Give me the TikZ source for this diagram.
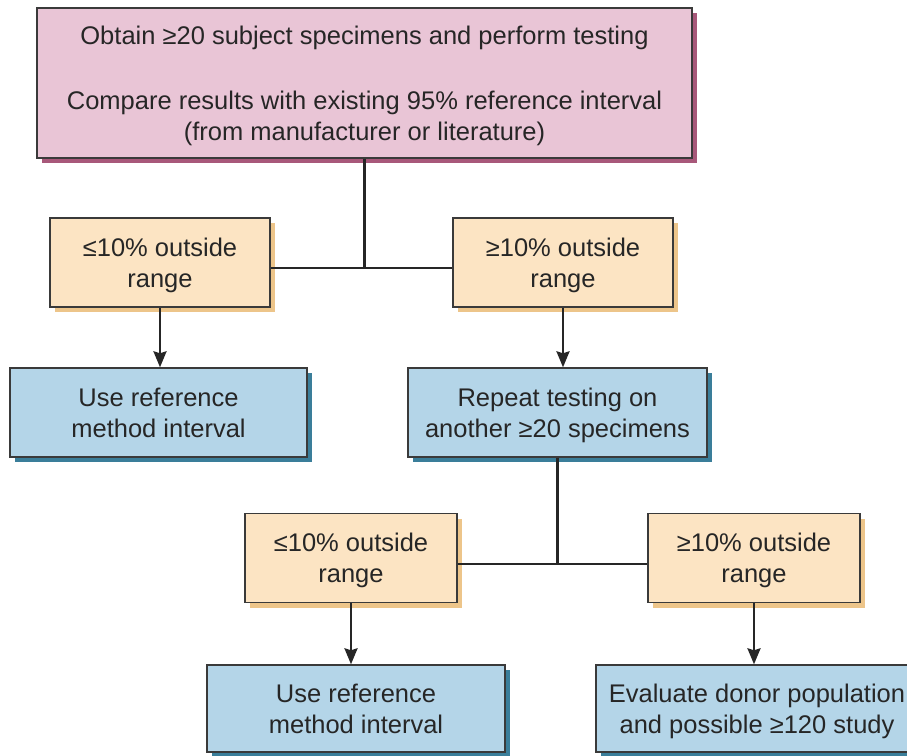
\documentclass[tikz,border=0pt]{standalone}
\usepackage{fontspec}
\setmainfont{Liberation Sans}
\usetikzlibrary{shadows,arrows.meta}
\definecolor{pinkfill}{HTML}{E9C5D6}
\definecolor{pinkshadow}{HTML}{A8587A}
\definecolor{orangefill}{HTML}{FCE4C3}
\definecolor{orangeshadow}{HTML}{EDC58A}
\definecolor{bluefill}{HTML}{B4D5E8}
\definecolor{blueshadow}{HTML}{3A7E9A}
\definecolor{edgegray}{HTML}{3A3A3A}
\tikzset{
  box/.style={draw=edgegray, line width=1.4pt, rectangle, align=center, inner sep=0pt,
    font=\fontsize{25.5}{31}\selectfont, text=black!85, text depth=-5pt},
  pinkbox/.style={box, fill=pinkfill, text depth=-14pt, general shadow={shadow xshift=5pt, shadow yshift=-5pt, fill=pinkshadow}},
  orangebox/.style={box, fill=orangefill, general shadow={shadow xshift=5pt, shadow yshift=-5pt, fill=orangeshadow}},
  bluebox/.style={box, fill=bluefill, general shadow={shadow xshift=5pt, shadow yshift=-5pt, fill=blueshadow}},
  link/.style={line width=2.6pt, draw=black!85},
  arrowlink/.style={link, -{Stealth[length=16pt, width=13pt, inset=2pt]}}
}
\begin{document}
\begin{tikzpicture}[x=1pt, y=-1pt]
\useasboundingbox (0,0) rectangle (907,755);
\node[pinkbox, minimum width=655pt, minimum height=150pt] (top) at (364.5,83)
  {Obtain ≥20 subject specimens and perform testing\\[34pt]
   Compare results with existing 95\% reference interval\\
   (from manufacturer or literature)};
\node[orangebox, minimum width=220pt, minimum height=89pt] (oa) at (160,262.5) {≤10\% outside\\range};
\node[orangebox, minimum width=220pt, minimum height=89pt] (ob) at (563,262.5) {≥10\% outside\\range};
\node[bluebox, minimum width=297pt, minimum height=89pt] (ba) at (158.5,412.5) {Use reference\\method interval};
\node[bluebox, minimum width=299pt, minimum height=89pt] (bb) at (557.5,412.5) {Repeat testing on\\another ≥20 specimens};
\node[orangebox, minimum width=212pt, minimum height=89pt] (oc) at (351,558) {≤10\% outside\\range};
\node[orangebox, minimum width=212pt, minimum height=89pt] (od) at (754,558) {≥10\% outside\\range};
\node[bluebox, minimum width=298pt, minimum height=87pt] (bc) at (356,708.5) {Use reference\\method interval};
\node[bluebox, minimum width=322pt, minimum height=87pt] (bd) at (757,708.5) {Evaluate donor population\\and possible ≥120 study};
\coordinate (j1) at ([yshift=-5.5pt]oa.east -| top.south);
\draw[link] ([yshift=-5.5pt]oa.east) -- ([yshift=-5.5pt]ob.west);
\draw[link] (top.south) -- (j1);
\draw[arrowlink] (oa.south) -- (oa.south |- ba.north);
\draw[arrowlink] (ob.south) -- (ob.south |- bb.north);
\coordinate (j2) at ([yshift=-6pt]oc.east -| bb.south);
\draw[link] ([yshift=-6pt]oc.east) -- ([yshift=-6pt]od.west);
\draw[link] (bb.south) -- (j2);
\draw[arrowlink] (oc.south) -- (oc.south |- bc.north);
\draw[arrowlink] (od.south) -- (od.south |- bd.north);
\end{tikzpicture}
\end{document}
